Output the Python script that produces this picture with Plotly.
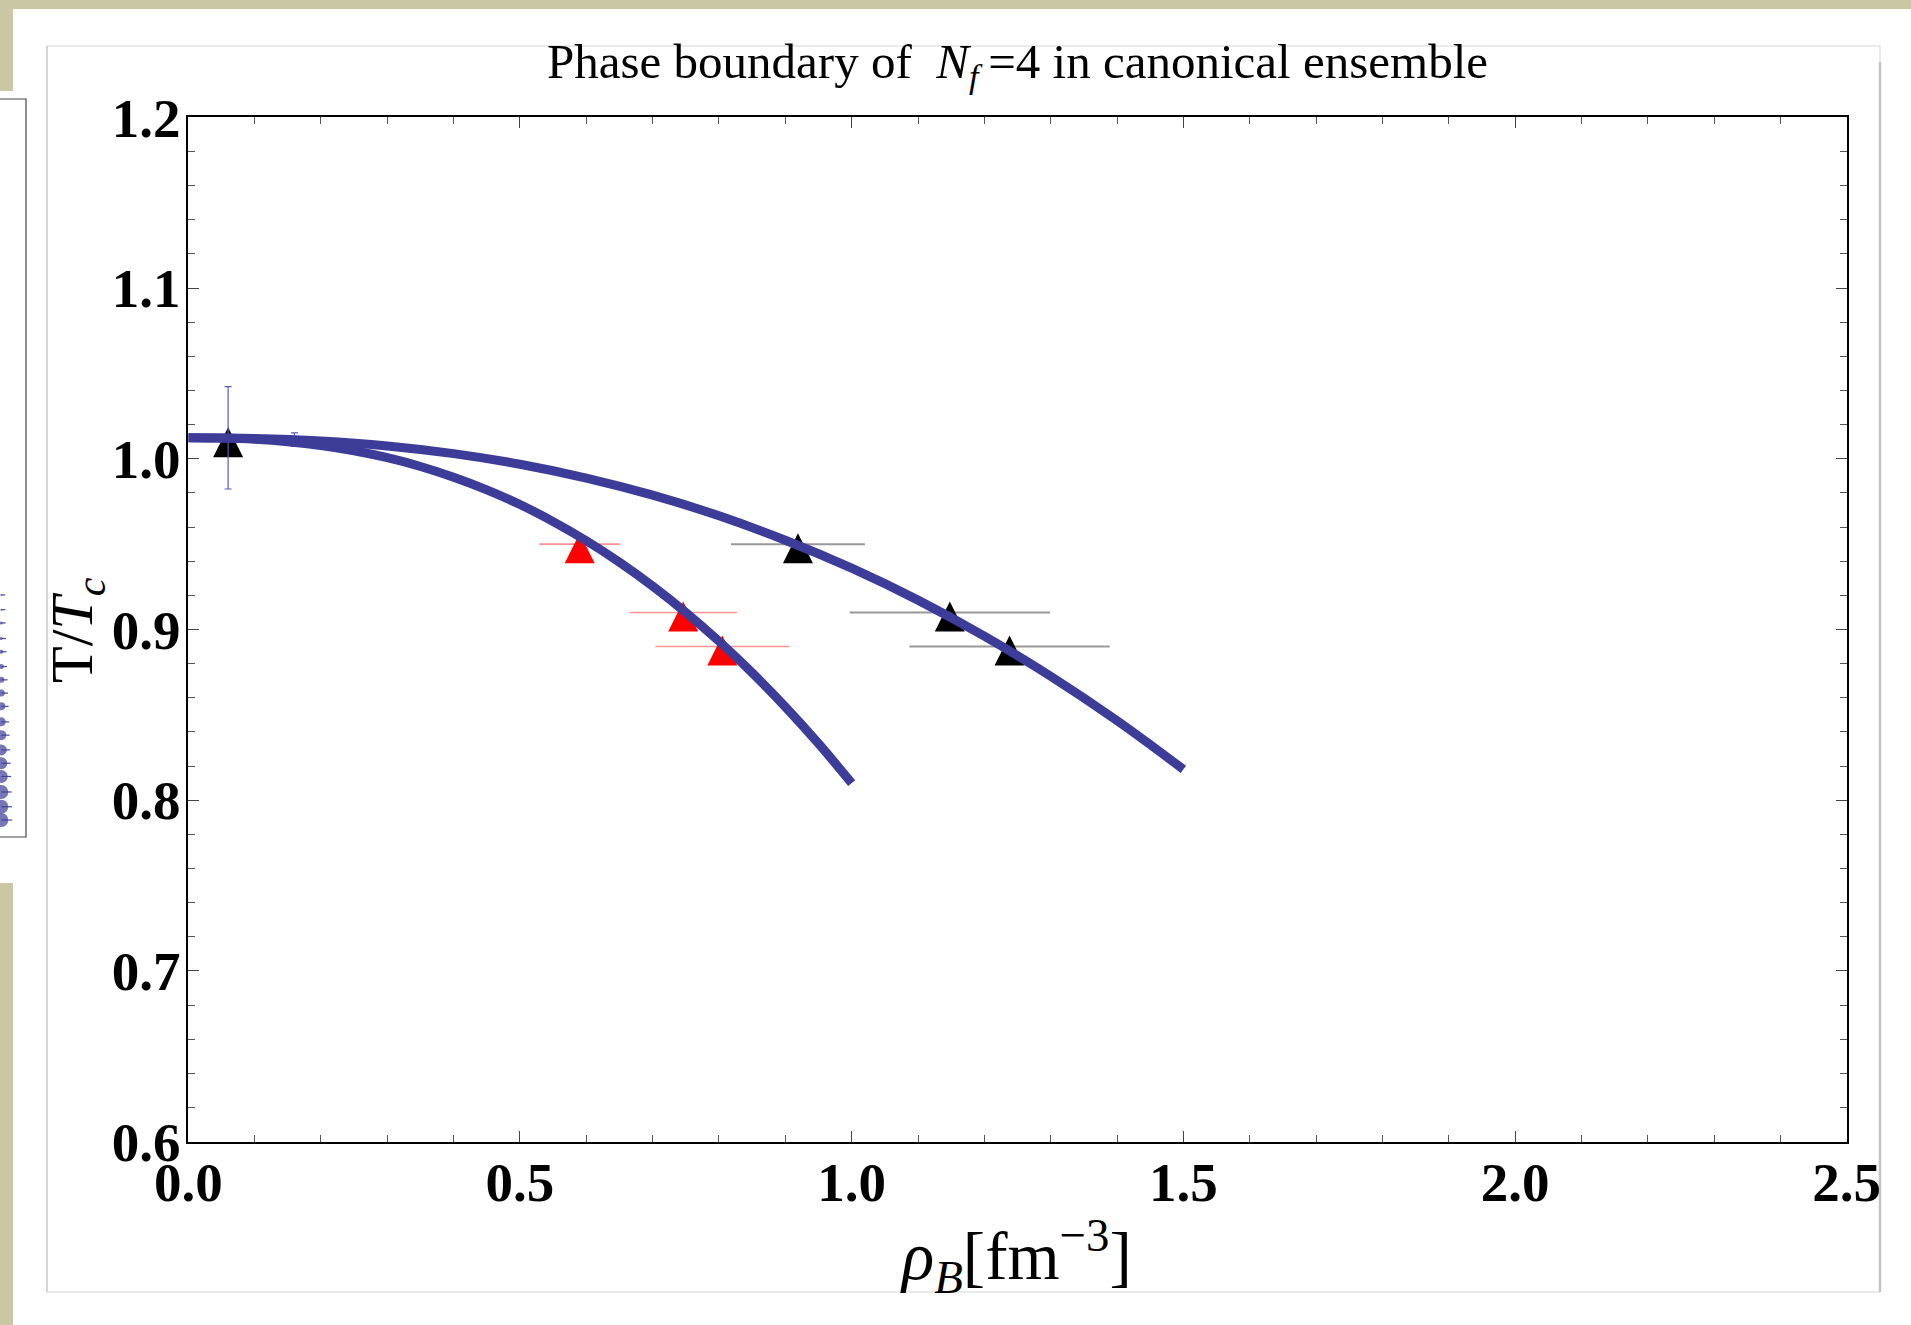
import plotly.graph_objects as go

W, H = 1911, 1325

# ---------------- data ----------------
# inner fit curve (red points)
rho_inner = [0.00, 0.05, 0.10, 0.15, 0.20, 0.25, 0.30, 0.35, 0.40, 0.45, 0.50,
             0.55, 0.60, 0.65, 0.70, 0.75, 0.80, 0.85, 0.90, 0.95, 1.00]
T_inner = [1.0123, 1.0121, 1.0114, 1.0100, 1.0078, 1.0047, 1.0006, 0.9955, 0.9892, 0.9818, 0.9732,
           0.9632, 0.9520, 0.9394, 0.9254, 0.9100, 0.8931, 0.8747, 0.8547, 0.8332, 0.8100]

# outer fit curve (black points)
rho_outer = [0.0, 0.1, 0.2, 0.3, 0.4, 0.5, 0.6, 0.7, 0.8, 0.9, 1.0, 1.1, 1.2, 1.3, 1.4, 1.5]
T_outer = [1.0123, 1.0119, 1.0104, 1.0075, 1.0030, 0.9968, 0.9887, 0.9787, 0.9666, 0.9523,
           0.9359, 0.9172, 0.8961, 0.8726, 0.8466, 0.8181]

# red triangles with horizontal errors
red_rho = [0.590, 0.746, 0.805]
red_T = [0.950, 0.910, 0.890]
red_err = [0.061, 0.081, 0.101]

# black triangles with horizontal errors
blk_rho = [0.919, 1.148, 1.238]
blk_T = [0.950, 0.910, 0.890]
blk_err = [0.101, 0.151, 0.151]

# black triangle at rho ~ 0
blk0_rho = [0.06]
blk0_T = [1.012]

# blue points with vertical errors
blue_rho = [0.06, 0.16]
blue_T = [1.0123, 1.0112]
blue_err = [0.030, 0.004]

# neighbouring (clipped) panel on the far left
side_x = [0.05] * 17
side_y = [0.328, 0.308, 0.290, 0.269, 0.251, 0.231, 0.213, 0.195, 0.177,
          0.156, 0.138, 0.118, 0.100, 0.082, 0.061, 0.041, 0.023]
side_err = [0.15, 0.16, 0.17, 0.18, 0.20, 0.22, 0.24, 0.26, 0.28,
            0.30, 0.32, 0.34, 0.36, 0.38, 0.40, 0.41, 0.42]
side_size = [2, 2, 3, 3, 4, 5, 6, 7, 8, 9, 10, 11, 12, 13, 14, 14, 14]

x_ticks = [0.0, 0.5, 1.0, 1.5, 2.0, 2.5]
y_ticks = [0.6, 0.7, 0.8, 0.9, 1.0, 1.1, 1.2]

CURVE = "#3d3d99"
SERIF = "Liberation Serif"


def px(x):
    return x / W


def py(y):
    return 1 - y / H


# plot frame in pixels
FL, FR, FT, FB = 188.3, 1846.7, 117.3, 1141.7

fig = go.Figure()

# left partial panel
fig.add_trace(go.Scatter(
    x=side_x, y=side_y, mode="markers", xaxis="x2", yaxis="y2",
    marker=dict(color=CURVE, size=side_size, line=dict(width=0)),
    error_x=dict(type="data", array=side_err, arrayminus=[0] * 17,
                 color="#4a4aa8", thickness=1.2, width=0),
    cliponaxis=False, showlegend=False, hoverinfo="skip"))

# red error bars + triangles
fig.add_trace(go.Scatter(
    x=red_rho, y=red_T, mode="markers",
    marker=dict(symbol="arrow-down", angle=180, standoff=11, size=30,
                color="#ff0000", line=dict(width=0)),
    error_x=dict(type="data", array=red_err, color="rgba(255,60,60,0.55)",
                 thickness=1.6, width=0),
    showlegend=False))

# black error bars + triangles
fig.add_trace(go.Scatter(
    x=blk_rho, y=blk_T, mode="markers",
    marker=dict(symbol="arrow-down", angle=180, standoff=11, size=30,
                color="#000000", line=dict(width=0)),
    error_x=dict(type="data", array=blk_err, color="rgba(0,0,0,0.4)",
                 thickness=2, width=0),
    showlegend=False))

fig.add_trace(go.Scatter(
    x=blk0_rho, y=blk0_T, mode="markers",
    marker=dict(symbol="arrow-down", angle=180, standoff=11, size=30,
                color="#000000", line=dict(width=0)),
    showlegend=False))

# blue points with vertical error bars
fig.add_trace(go.Scatter(
    x=blue_rho, y=blue_T, mode="markers",
    marker=dict(color=CURVE, size=6, line=dict(width=0)),
    error_y=dict(type="data", array=blue_err, color="#5a5ab8",
                 thickness=1.2, width=3.5),
    showlegend=False))

# curves on top
fig.add_trace(go.Scatter(x=rho_inner, y=T_inner, mode="lines",
                         line=dict(color=CURVE, width=9, shape="spline"),
                         showlegend=False))
fig.add_trace(go.Scatter(x=rho_outer, y=T_outer, mode="lines",
                         line=dict(color=CURVE, width=9, shape="spline"),
                         showlegend=False))

axis_common = dict(
    showline=True, linecolor="#000000", linewidth=1.5, mirror="allticks",
    ticks="inside", tickcolor="#444444", tickwidth=1.2, ticklen=11,
    showgrid=False, zeroline=False, automargin=False,
    tickfont=dict(family=SERIF, size=55, color="#000000", weight="bold"),
    tickformat=".1f",
)

BEIGE = "#c9c7a4"
shapes = [
    # textured beige background pieces
    dict(type="rect", xref="paper", yref="paper", x0=0, x1=1, y0=py(9), y1=1,
         fillcolor=BEIGE, line=dict(width=0), layer="below"),
    dict(type="rect", xref="paper", yref="paper", x0=0, x1=px(13), y0=py(91), y1=1,
         fillcolor=BEIGE, line=dict(width=0), layer="below"),
    dict(type="rect", xref="paper", yref="paper", x0=0, x1=px(13), y0=0, y1=py(883),
         fillcolor=BEIGE, line=dict(width=0), layer="below"),
    # inner white panel frame
    dict(type="rect", xref="paper", yref="paper", x0=px(47), x1=px(1880), y0=py(1292), y1=py(46),
         fillcolor="rgba(0,0,0,0)", line=dict(color="#e4e4e4", width=1.5), layer="below"),
    dict(type="line", xref="paper", yref="paper", x0=px(1880), x1=px(1880), y0=py(1292), y1=py(62),
         line=dict(color="#c4c4c4", width=2.5), layer="below"),
    dict(type="line", xref="paper", yref="paper", x0=px(47), x1=px(47), y0=py(1292), y1=py(46),
         line=dict(color="#d6d6d6", width=2), layer="below"),
    # left neighbouring panel box
    dict(type="rect", xref="paper", yref="paper", x0=-0.01, x1=px(26), y0=py(837), y1=py(99),
         fillcolor="rgba(0,0,0,0)", line=dict(color="#444444", width=1.2), layer="below"),
]

annotations = [
    dict(text="Phase boundary of  <i>N</i><sub><i>f</i></sub>\u2009=4 in canonical ensemble",
         xref="paper", yref="paper", x=px(1017), y=py(64), xanchor="center", yanchor="middle",
         showarrow=False, font=dict(family=SERIF, size=49, color="#000000")),
    dict(text="<i>ρ</i><sub><i>B</i></sub>[fm<sup>−3</sup>]",
         xref="paper", yref="paper", x=px(1016), y=py(1256), xanchor="center", yanchor="middle",
         showarrow=False, font=dict(family=SERIF, size=67, color="#000000")),
    dict(text="T/<i>T</i><sub><i>c</i></sub>",
         xref="paper", yref="paper", x=px(76), y=py(630), xanchor="center", yanchor="middle",
         textangle=-90, showarrow=False, font=dict(family=SERIF, size=60, color="#000000")),
]

fig.update_layout(
    width=W, height=H, autosize=False,
    margin=dict(l=0, r=0, t=0, b=0, autoexpand=False),
    paper_bgcolor="#ffffff", plot_bgcolor="#ffffff",
    xaxis=dict(axis_common, range=[0, 2.5], tickvals=x_ticks,
               domain=[px(FL), px(FR)], ticklabelstandoff=-8,
               minor=dict(dtick=0.1, tick0=0, ticks="inside", ticklen=7,
                          tickcolor="#555555", tickwidth=1)),
    yaxis=dict(axis_common, range=[0.6, 1.2], tickvals=y_ticks,
               domain=[py(FB), py(FT)], ticklabelstandoff=-5,
               minor=dict(dtick=0.02, tick0=0.6, ticks="inside", ticklen=7,
                          tickcolor="#555555", tickwidth=1)),
    xaxis2=dict(domain=[0, px(26)], range=[0, 1], visible=False, anchor="y2", automargin=False),
    yaxis2=dict(domain=[py(837), py(99)], range=[0, 1], visible=False, anchor="x2", automargin=False),
    shapes=shapes,
    annotations=annotations,
    showlegend=False,
)

fig.write_html("out.html")
